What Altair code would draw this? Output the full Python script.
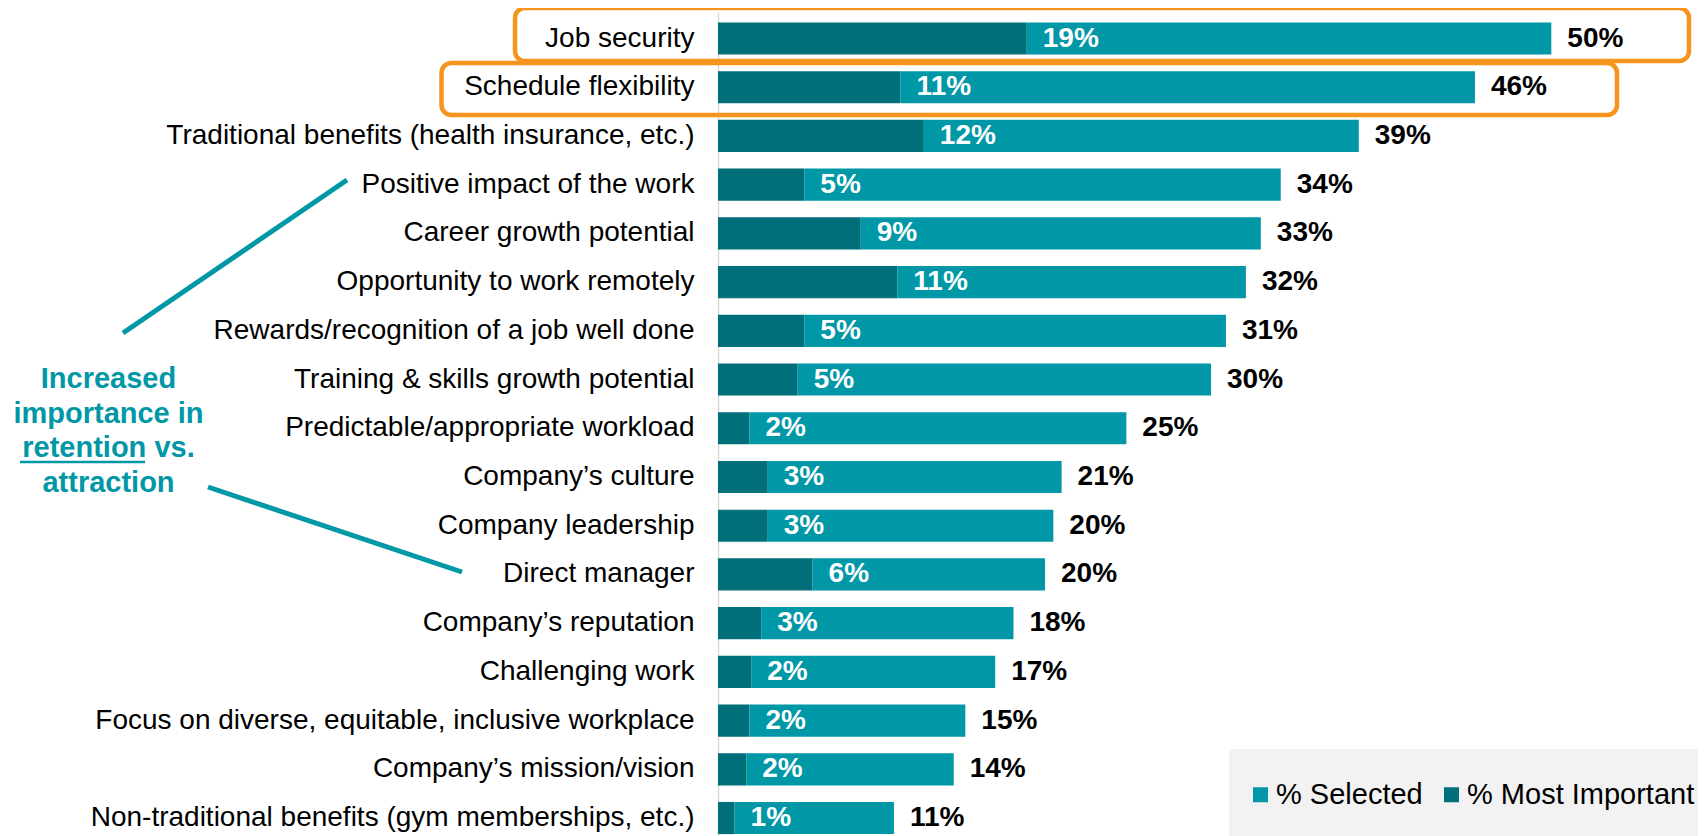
import altair as alt
import pandas as pd

categories = [
    "Job security",
    "Schedule flexibility",
    "Traditional benefits (health insurance, etc.)",
    "Positive impact of the work",
    "Career growth potential",
    "Opportunity to work remotely",
    "Rewards/recognition of a job well done",
    "Training & skills growth potential",
    "Predictable/appropriate workload",
    "Company\u2019s culture",
    "Company leadership",
    "Direct manager",
    "Company\u2019s reputation",
    "Challenging work",
    "Focus on diverse, equitable, inclusive workplace",
    "Company\u2019s mission/vision",
    "Non-traditional benefits (gym memberships, etc.)",
]
selected = [50.2, 45.6, 38.6, 33.9, 32.7, 31.8, 30.6, 29.7, 24.6, 20.7, 20.2, 19.7, 17.8, 16.7, 14.9, 14.2, 10.6]
most_important = [18.6, 11.0, 12.4, 5.2, 8.6, 10.8, 5.2, 4.8, 1.9, 3.0, 3.0, 5.7, 2.6, 2.0, 1.9, 1.7, 1.0]
series_names = ["% Selected", "% Most Important"]
series_colors = ["#0097A6", "#006F79"]
annotation_lines = ["Increased", "importance in", "retention vs.", "attraction"]

FONT = "Liberation Sans"
TEAL = series_colors[0]
ORANGE = "#F7941D"


def pct(v):
    return f"{int(v + 0.5)}%"


rows = []
for c, s, m in zip(categories, selected, most_important):
    rows.append({"category": c, "series": series_names[1], "start": 0, "end": m})
    rows.append({"category": c, "series": series_names[0], "start": m, "end": s})
bars_df = pd.DataFrame(rows)

labels_df = pd.DataFrame({
    "category": categories,
    "selected": selected,
    "most_important": most_important,
    "sel_label": [pct(v) for v in selected],
    "mi_label": [pct(v) for v in most_important],
})

one = pd.DataFrame({"k": [0]})

W, H = 980, 824
x_scale = alt.Scale(domain=[0, W / 16.6], nice=False, zero=True)
y_scale = alt.Scale(paddingInner=0.34, paddingOuter=0.1265, align=0.846)

y_axis = alt.Axis(
    labelFont=FONT, labelFontSize=28, labelColor="#000000", labelPadding=24,
    labelLimit=900, ticks=False, domainColor="#D9D9D9", domainWidth=1.5,
    grid=False, title=None,
)

legend_bg = alt.Chart(one).mark_rect(color="#F2F2F2").encode(
    x=alt.value(511), x2=alt.value(1000), y=alt.value(737), y2=alt.value(840)
)

bars = alt.Chart(bars_df).mark_bar().encode(
    y=alt.Y("category:N", sort=categories, scale=y_scale, axis=y_axis),
    x=alt.X("start:Q", scale=x_scale, axis=None),
    x2="end:Q",
    color=alt.Color(
        "series:N",
        scale=alt.Scale(domain=series_names, range=series_colors),
        legend=alt.Legend(
            title=None, orient="none", legendX=528, legendY=768,
            direction="horizontal", symbolType="square", symbolSize=225,
            symbolStrokeWidth=0, labelFont=FONT, labelFontSize=29,
            labelColor="#000000", labelOffset=1, columnPadding=14, padding=0,
            labelLimit=1000,
        ),
    ),
)

sel_text = alt.Chart(labels_df).mark_text(
    align="left", baseline="middle", dx=16, font=FONT, fontSize=28,
    fontWeight="bold", color="#000000",
).encode(
    y=alt.Y("category:N", sort=categories),
    x=alt.X("selected:Q", scale=x_scale),
    text="sel_label:N",
)

mi_text = alt.Chart(labels_df).mark_text(
    align="left", baseline="middle", dx=16, font=FONT, fontSize=28,
    fontWeight="bold", color="#FFFFFF",
).encode(
    y=alt.Y("category:N", sort=categories),
    x=alt.X("most_important:Q", scale=x_scale),
    text="mi_label:N",
)

box1 = alt.Chart(one).mark_rect(
    fillOpacity=0, stroke=ORANGE, strokeWidth=4.5, cornerRadius=10
).encode(x=alt.value(-203), x2=alt.value(971), y=alt.value(-4), y2=alt.value(49))

box2 = alt.Chart(one).mark_rect(
    fillOpacity=0, stroke=ORANGE, strokeWidth=4.5, cornerRadius=10
).encode(x=alt.value(-276.5), x2=alt.value(899), y=alt.value(51), y2=alt.value(103))

line1 = alt.Chart(one).mark_rule(color=TEAL, strokeWidth=5).encode(
    x=alt.value(-595), y=alt.value(321), x2=alt.value(-371), y2=alt.value(168)
)
line2 = alt.Chart(one).mark_rule(color=TEAL, strokeWidth=5).encode(
    x=alt.value(-510), y=alt.value(475), x2=alt.value(-256), y2=alt.value(560)
)

note = alt.Chart(one).mark_text(
    align="center", baseline="alphabetic", lineHeight=34.7, fontSize=29,
    fontWeight="bold", color=TEAL, font=FONT,
).encode(x=alt.value(-609.5), y=alt.value(376), text=alt.value(annotation_lines))

underline = alt.Chart(one).mark_rule(color=TEAL, strokeWidth=2.5).encode(
    x=alt.value(-698), x2=alt.value(-573), y=alt.value(450)
)

chart = alt.layer(
    legend_bg, bars, sel_text, mi_text, box1, box2, line1, line2, note, underline
).properties(
    width=W, height=H,
    padding={"left": 710, "top": 4, "right": 0, "bottom": 0},
    autosize=alt.AutoSizeParams(type="none"),
).configure_view(stroke=None)

chart.save("out.html", embed_options={"renderer": "svg", "actions": False})
